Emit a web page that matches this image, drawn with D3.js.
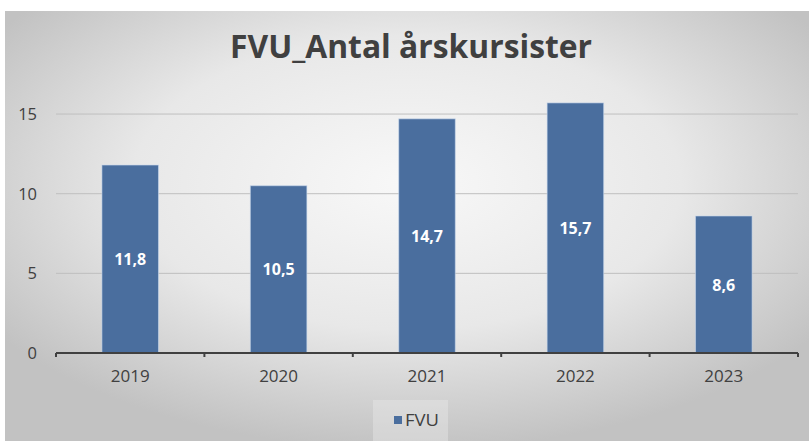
<!DOCTYPE html>
<html><head><meta charset="utf-8">
<script src="https://cdn.jsdelivr.net/npm/d3@7/dist/d3.min.js"></script>
<style>html,body{margin:0;padding:0;background:#fff;overflow:hidden}</style>
</head><body>
<script>
const categories = ["2019","2020","2021","2022","2023"];
const values = [11.8,10.5,14.7,15.7,8.6];
const valueLabels = ["11,8","10,5","14,7","15,7","8,6"];
const yTicks = [0,5,10,15];
const seriesName = "FVU";
const title = "FVU_Antal årskursister";

(function(){
const W = 809, H = 441;
const svg = d3.select("body").append("svg").attr("width", W).attr("height", H);
const defs = svg.append("defs");
const rg = defs.append("radialGradient").attr("id","bg").attr("cx","50%").attr("cy","40%").attr("r","62%");
rg.append("stop").attr("offset","0%").attr("stop-color","#f8f8f8");
rg.append("stop").attr("offset","55%").attr("stop-color","#e8e8e8");
rg.append("stop").attr("offset","100%").attr("stop-color","#c2c2c2");
svg.append("rect").attr("x",5).attr("y",11).attr("width",W-5).attr("height",H-11).attr("fill","url(#bg)");

const font = "'Open Sans', 'DejaVu Sans', sans-serif";
const pl = 56, pr = 798, pb = 353;
const x = d3.scaleBand().domain(categories).range([pl,pr]).paddingInner(0.619).paddingOuter(0.3095);
const xb = d3.scaleBand().domain(categories).range([pl,pr]);
const y = d3.scaleLinear().domain([0,15]).range([pb, pb - 15*15.93]);

svg.append("text").attr("x",411).attr("y",58).attr("text-anchor","middle")
  .attr("font-family",font).attr("font-weight","bold").attr("font-size",32)
  .attr("fill","#404040").attr("textLength",362).attr("lengthAdjust","spacingAndGlyphs").text(title);

svg.append("g").selectAll("line").data(yTicks.filter(d=>d>0)).join("line")
  .attr("x1",pl).attr("x2",pr).attr("y1",d=>y(d)).attr("y2",d=>y(d))
  .attr("stroke","#bfbfbf").attr("stroke-width",1);

svg.append("g").selectAll("text").data(yTicks).join("text")
  .attr("x",37).attr("y",d=>y(d)+6).attr("text-anchor","end")
  .attr("font-family",font).attr("font-size",16.5).attr("fill","#404040").text(d=>d);

svg.append("g").selectAll("rect").data(values).join("rect")
  .attr("x",(d,i)=>x(categories[i])).attr("width",x.bandwidth())
  .attr("y",d=>y(d)).attr("height",d=>y(0)-y(d))
  .attr("fill","#4a6e9e").attr("stroke","#c9d8ec").attr("stroke-opacity",0.6).attr("stroke-width",1);

svg.append("g").selectAll("text").data(values).join("text")
  .attr("x",(d,i)=>x(categories[i])+x.bandwidth()/2).attr("y",d=>(y(d)+y(0))/2+6)
  .attr("text-anchor","middle").attr("font-family",font).attr("font-weight","bold")
  .attr("font-size",16).attr("fill","#ffffff").text((d,i)=>valueLabels[i]);

const xAxis = d3.axisBottom(xb).tickSize(0).tickFormat(()=>"");
const ga = svg.append("g").attr("transform",`translate(0,${pb})`).call(xAxis);
ga.select(".domain").remove();
svg.append("line").attr("x1",pl).attr("x2",pr).attr("y1",pb).attr("y2",pb)
  .attr("stroke","#404040").attr("stroke-width",2);
const bounds = categories.map(c=>xb(c)).concat([pr]);
svg.append("g").selectAll("line").data(bounds).join("line")
  .attr("x1",d=>d).attr("x2",d=>d).attr("y1",pb).attr("y2",pb+4)
  .attr("stroke","#404040").attr("stroke-width",2);
svg.append("g").selectAll("text").data(categories).join("text")
  .attr("x",d=>xb(d)+xb.bandwidth()/2).attr("y",382)
  .attr("text-anchor","middle").attr("font-family",font).attr("font-size",17)
  .attr("fill","#404040").text(d=>d);

const lg = svg.append("g");
lg.append("rect").attr("x",373).attr("y",400).attr("width",75).attr("height",41).attr("fill","#ececec").attr("opacity",0.4);
lg.append("rect").attr("x",394).attr("y",416).attr("width",8).attr("height",8).attr("fill","#4a6e9e");
lg.append("text").attr("x",405).attr("y",426).attr("font-family",font).attr("font-size",16)
  .attr("fill","#404040").attr("textLength",34).attr("lengthAdjust","spacingAndGlyphs").text(seriesName);
})();
</script>
</body></html>
